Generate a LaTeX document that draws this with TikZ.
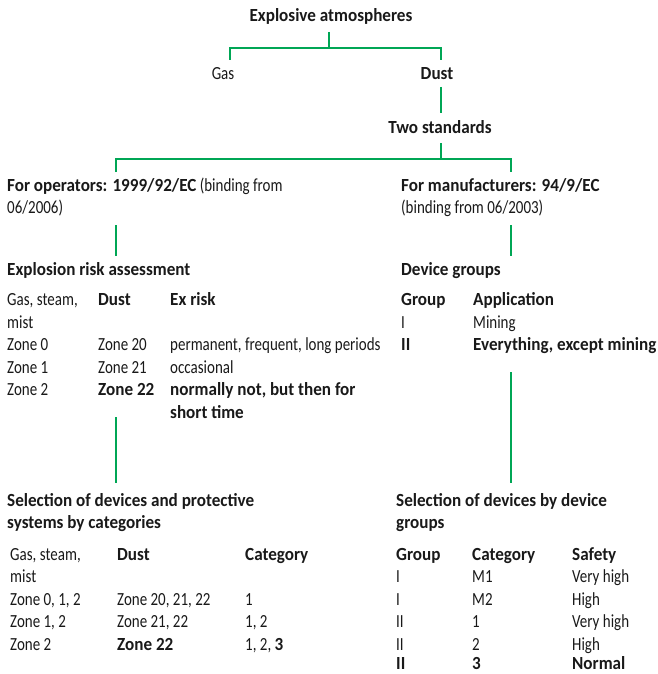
\documentclass[tikz,border=0pt]{standalone}
\usepackage{fontspec}
\setmainfont{Carlito}[FakeStretch=0.81,BoldFeatures={FakeStretch=0.925}]
\definecolor{linegreen}{RGB}{0,166,85}
\definecolor{txt}{RGB}{25,25,25}
\begin{document}
\begin{tikzpicture}[x=1pt,y=-1pt,
  lbl/.style={anchor=base west,inner sep=0pt,text=txt,font=\fontsize{18.5}{22}\selectfont},
  clbl/.style={lbl,anchor=base},
  lastrow/.style={lbl,text depth=0pt},
  conn/.style={draw=linegreen,line width=1.8pt}]
\useasboundingbox (0,0) rectangle (657,674);
% top tree
\node[clbl] (title) at (331,22) {\textbf{Explosive atmospheres}};
\node[clbl] (gas) at (223,80) {Gas};
\node[clbl] (dust) at (437,80) {\textbf{Dust}};
\node[clbl] (two) at (440,133) {\textbf{Two standards}};
% operators / manufacturers
\node[lbl] (op1) at (7,191) {\textbf{For operators: 1999/92/EC} (binding from};
\node[lbl] (op2) at (7,213) {06/2006)};
\node[lbl] (man1) at (401,191) {\textbf{For manufacturers: 94/9/EC}};
\node[lbl] (man2) at (401,213) {(binding from 06/2003)};
% explosion risk assessment
\node[lbl] (era) at (7,275) {\textbf{Explosion risk assessment}};
\node[lbl] (ea1) at (7,305.5) {Gas, steam,};
\node[lbl] (ea2) at (98,305.5) {\textbf{Dust}};
\node[lbl] (ea3) at (170,305.5) {\textbf{Ex risk}};
\node[lbl] (eb1) at (7,328) {mist};
\node[lbl] (ec1) at (7,350.5) {Zone 0};
\node[lbl] (ec2) at (98,350.5) {Zone 20};
\node[lbl] (ec3) at (170,350.5) {permanent, frequent, long periods};
\node[lbl] (ed1) at (7,373) {Zone 1};
\node[lbl] (ed2) at (98,373) {Zone 21};
\node[lbl] (ed3) at (170,373) {occasional};
\node[lbl] (ee1) at (7,395.5) {Zone 2};
\node[lbl] (ee2) at (98,395.5) {\textbf{Zone 22}};
\node[lbl] (ee3) at (170,395.5) {\textbf{normally not, but then for}};
\node[lbl] (ef3) at (170,418) {\textbf{short time}};
% device groups
\node[lbl] (dg) at (401,275) {\textbf{Device groups}};
\node[lbl] (da1) at (401,305.5) {\textbf{Group}};
\node[lbl] (da2) at (473,305.5) {\textbf{Application}};
\node[lbl] (db1) at (401,328) {I};
\node[lbl] (db2) at (473,328) {Mining};
\node[lbl] (dc1) at (401,350.5) {\textbf{II}};
\node[lbl] (dc2) at (473,350.5) {\textbf{Everything, except mining}};
% selection left
\node[lbl] (sl1) at (7,506) {\textbf{Selection of devices and protective}};
\node[lbl] (sl2) at (7,528.5) {\textbf{systems by categories}};
\node[lbl] (sa1) at (10,560) {Gas, steam,};
\node[lbl] (sa2) at (117,560) {\textbf{Dust}};
\node[lbl] (sa3) at (245,560) {\textbf{Category}};
\node[lbl] (sb1) at (10,582.5) {mist};
\node[lbl] (sc1) at (10,605) {Zone 0, 1, 2};
\node[lbl] (sc2) at (117,605) {Zone 20, 21, 22};
\node[lbl] (sc3) at (245,605) {1};
\node[lbl] (sd1) at (10,627.5) {Zone 1, 2};
\node[lbl] (sd2) at (117,627.5) {Zone 21, 22};
\node[lbl] (sd3) at (245,627.5) {1, 2};
\node[lbl] (se1) at (10,650) {Zone 2};
\node[lbl] (se2) at (117,650) {\textbf{Zone 22}};
\node[lbl] (se3) at (245,650) {1, 2, \textbf{3}};
% selection right
\node[lbl] (sr1) at (396,506) {\textbf{Selection of devices by device}};
\node[lbl] (sr2) at (396,528.5) {\textbf{groups}};
\node[lbl] (ra1) at (396,560) {\textbf{Group}};
\node[lbl] (ra2) at (472,560) {\textbf{Category}};
\node[lbl] (ra3) at (572,560) {\textbf{Safety}};
\node[lbl] (rb1) at (396,582.5) {I};
\node[lbl] (rb2) at (472,582.5) {M1};
\node[lbl] (rb3) at (572,582.5) {Very high};
\node[lbl] (rc1) at (396,605) {I};
\node[lbl] (rc2) at (472,605) {M2};
\node[lbl] (rc3) at (572,605) {High};
\node[lbl] (rd1) at (396,627.5) {II};
\node[lbl] (rd2) at (472,627.5) {1};
\node[lbl] (rd3) at (572,627.5) {Very high};
\node[lbl] (re1) at (396,650) {II};
\node[lbl] (re2) at (472,650) {2};
\node[lbl] (re3) at (572,650) {High};
\node[lastrow] (rf1) at (396,669.5) {\textbf{II}};
\node[lastrow] (rf2) at (472,669.5) {\textbf{3}};
\node[lastrow] (rf3) at (572,669.5) {\textbf{Normal}};
% connector coordinates
\coordinate (t0) at (329,32);
\coordinate (j1) at (329,48);
\coordinate (gtop) at (230,60);
\coordinate (dtop) at (441,60);
\coordinate (d0) at (441,87);
\coordinate (d1) at (441,113);
\coordinate (s0) at (441,143);
\coordinate (j2) at (441,159);
\coordinate (optop) at (116,172);
\coordinate (mantop) at (511,172);
\coordinate (oa) at (116,225);
\coordinate (ob) at (116,256);
\coordinate (ma) at (511,225);
\coordinate (mb) at (511,256);
\coordinate (ec) at (116,417);
\coordinate (ed) at (116,483);
\coordinate (mc) at (511,372);
\coordinate (md) at (511,483);
% connectors
\draw[conn] (t0) -- (j1);
\draw[conn] (gtop) |- (j1) -| (dtop);
\draw[conn] (d0) -- (d1);
\draw[conn] (s0) -- (j2);
\draw[conn] (optop) |- (j2) -| (mantop);
\draw[conn] (oa) -- (ob);
\draw[conn] (ma) -- (mb);
\draw[conn] (ec) -- (ed);
\draw[conn] (mc) -- (md);
\end{tikzpicture}
\end{document}
